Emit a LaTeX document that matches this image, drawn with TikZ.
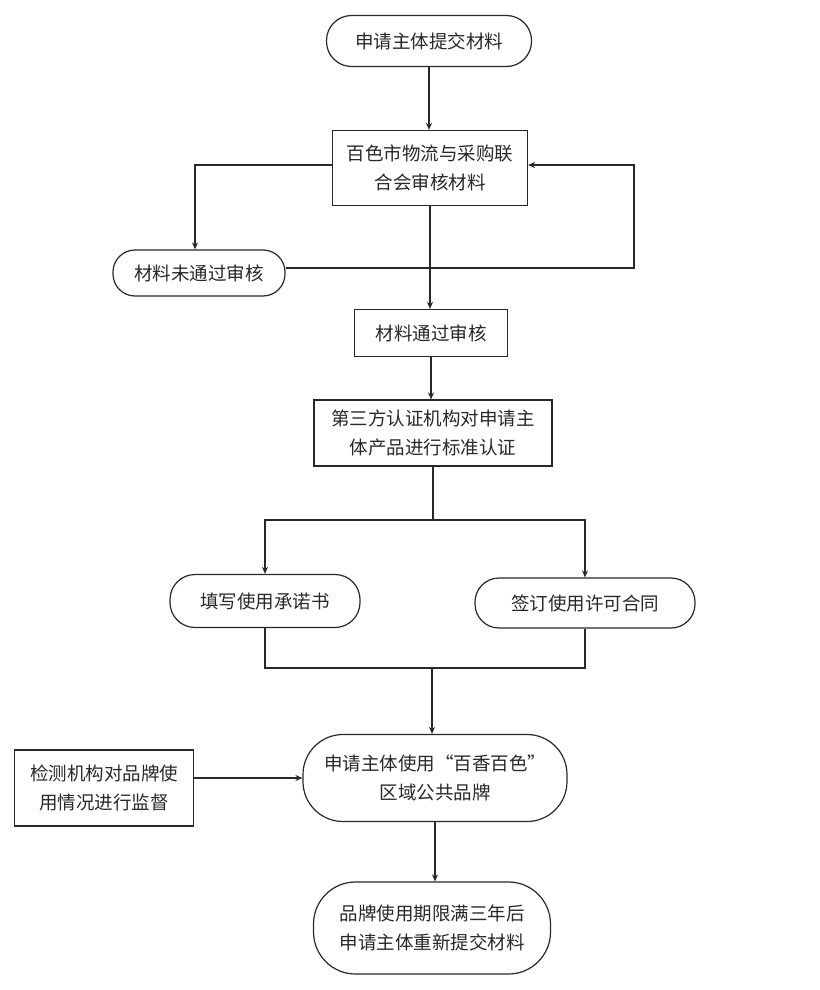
\documentclass[tikz,border=0pt]{standalone}
\usepackage{fontspec}
\setmainfont{Noto Sans CJK SC}
\usetikzlibrary{arrows.meta}
\definecolor{ink}{HTML}{282828}
\begin{document}
\begin{tikzpicture}[x=1pt,y=-1pt,
  base/.style={draw=ink, line width=1.2pt, align=center, inner sep=0pt,
    font=\fontsize{18.5}{29}\selectfont, text=ink},
  stad/.style={base, rounded corners=#1},
  boxr/.style={base},
  arr/.style={draw=ink, line width=1.2pt, -{Stealth[length=7pt,width=6pt]}},
  ln/.style={draw=ink, line width=1.2pt}]
\useasboundingbox (0,0) rectangle (819,990);
\fill[white] (0,0) rectangle (819,990);

\node[stad=25pt, minimum width=205pt, minimum height=51pt] (n1) at (429,41) {申请主体提交材料};
\node[boxr, minimum width=195pt, minimum height=75pt] (n2) at (430,168) {百色市物流与采购联\\合会审核材料};
\node[stad=22pt, minimum width=172pt, minimum height=46pt] (n3) at (199,273) {材料未通过审核};
\node[boxr, minimum width=153pt, minimum height=47pt] (n4) at (431,333) {材料通过审核};
\node[boxr, minimum width=238pt, minimum height=66pt] (n5) at (433,433) {第三方认证机构对申请主\\体产品进行标准认证};
\node[stad=25pt, minimum width=190pt, minimum height=53pt] (n6) at (265,601) {填写使用承诺书};
\node[stad=24pt, minimum width=220pt, minimum height=50pt] (n7) at (585,603) {签订使用许可合同};
\node[stad=40pt, minimum width=264pt, minimum height=87pt] (n8) at (435,778) {申请主体使用“百香百色”\\区域公共品牌};
\node[boxr, minimum width=179pt, minimum height=76pt] (n9) at (104,788) {检测机构对品牌使\\用情况进行监督};
\node[stad=42pt, minimum width=237pt, minimum height=92pt] (n10) at (432,928) {品牌使用期限满三年后\\申请主体重新提交材料};

\draw[arr] (n1.south) -- (n1.south |- n2.north);
\draw[arr] ([yshift=3pt]n2.west) -| ([xshift=-4pt]n3.north);
\coordinate (r) at (634,268);
\draw[arr] ([yshift=5pt]n3.east) -- (r) |- ([yshift=3pt]n2.east);
\draw[arr] (n2.south) -- (n2.south |- n4.north);
\draw[arr] (n4.south) -- (n4.south |- n5.north);
\coordinate (s) at (433,520);
\draw[ln] (n5.south) -- (s);
\draw[arr] (s) -| (n6.north);
\draw[arr] (s) -| (n7.north);
\coordinate (m) at (432,668);
\draw[ln] (n6.south) |- (m);
\draw[ln] (n7.south) |- (m);
\draw[arr] (m) -- (m |- n8.north);
\draw[arr] (n9.east |- n8.west) -- (n8.west);
\draw[arr] (n8.south) -- (n8.south |- n10.north);
\end{tikzpicture}
\end{document}
